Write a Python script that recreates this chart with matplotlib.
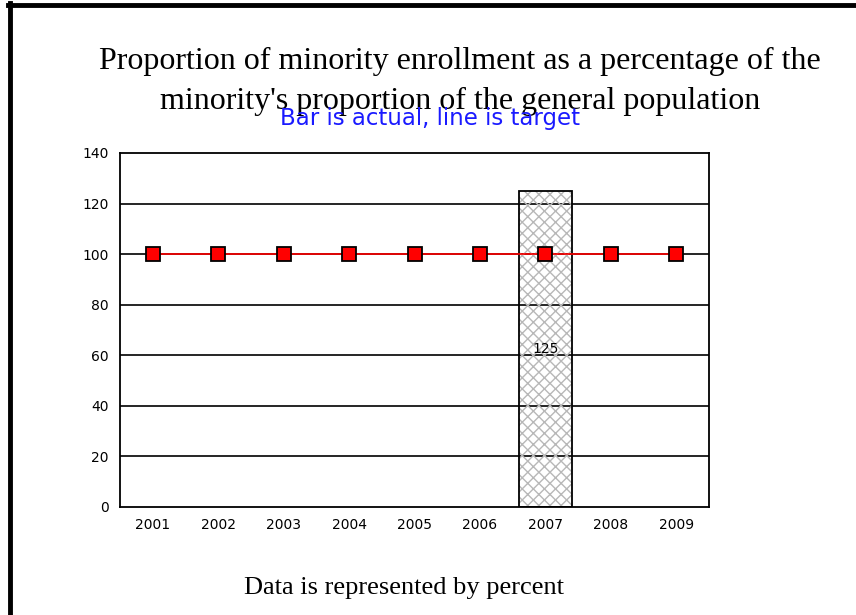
import matplotlib
matplotlib.use("Agg")
import matplotlib.pyplot as plt
from matplotlib.lines import Line2D

years = ["2001", "2002", "2003", "2004", "2005", "2006", "2007", "2008", "2009"]
actual = [0, 0, 0, 0, 0, 0, 125, 0, 0]
target = [100, 100, 100, 100, 100, 100, 100, 100, 100]
y_ticks = [0, 20, 40, 60, 80, 100, 120, 140]

W, H = 856, 615
fig = plt.figure(figsize=(W / 100, H / 100), dpi=100)
fig.patch.set_facecolor("white")

ax = fig.add_axes([120 / W, 1 - 507 / H, 589 / W, (507 - 153) / H])
x = list(range(len(years)))

for yv in y_ticks[1:-1]:
    ax.axhline(yv, color="black", lw=1.2, zorder=1)

for xi, v in zip(x, actual):
    if v > 0:
        ax.bar(xi, v, width=0.8, facecolor="none", edgecolor="#b8b8b8", hatch="xxx",
               linewidth=0, zorder=2)
        ax.bar(xi, v, width=0.8, facecolor="none", edgecolor="black", linewidth=1.3, zorder=3)
        ax.text(xi, v / 2, f"{v:g}", ha="center", va="center", fontsize=10,
                family="DejaVu Sans", zorder=4)

ax.plot(x, target, color="red", lw=1.2, marker="s", markersize=10,
        markerfacecolor="red", markeredgecolor="black", markeredgewidth=1.3, zorder=5)

ax.set_xlim(-0.5, len(years) - 0.5)
ax.set_ylim(0, 140)
ax.set_yticks(y_ticks)
ax.set_xticks(x)
ax.set_xticklabels(years)
ax.tick_params(length=0, labelsize=10, pad=8)
for lab in ax.get_xticklabels() + ax.get_yticklabels():
    lab.set_family("DejaVu Sans")
for s in ax.spines.values():
    s.set_linewidth(1.3)
    s.set_color("black")

fig.text(460 / W, 1 - 61 / H, "Proportion of minority enrollment as a percentage of the",
         ha="center", va="center", fontsize=23, family="Liberation Serif")
fig.text(460 / W, 1 - 101 / H, "minority's proportion of the general population",
         ha="center", va="center", fontsize=23, family="Liberation Serif")
fig.text(430 / W, 1 - 118 / H, "Bar is actual, line is target",
         ha="center", va="center", fontsize=16.5, family="DejaVu Sans", color="#1a1aff")
fig.text(404 / W, 1 - 588 / H, "Data is represented by percent",
         ha="center", va="center", fontsize=19, family="Liberation Serif")

fig.add_artist(Line2D([10 / W, 10 / W], [1 - 3 / H, 1 - 613 / H], color="black", lw=3.5,
                      transform=fig.transFigure))
fig.add_artist(Line2D([8 / W, 1.0], [1 - 5 / H, 1 - 5 / H], color="black", lw=3.5,
                      transform=fig.transFigure))

fig.savefig("out.png", dpi=100)
